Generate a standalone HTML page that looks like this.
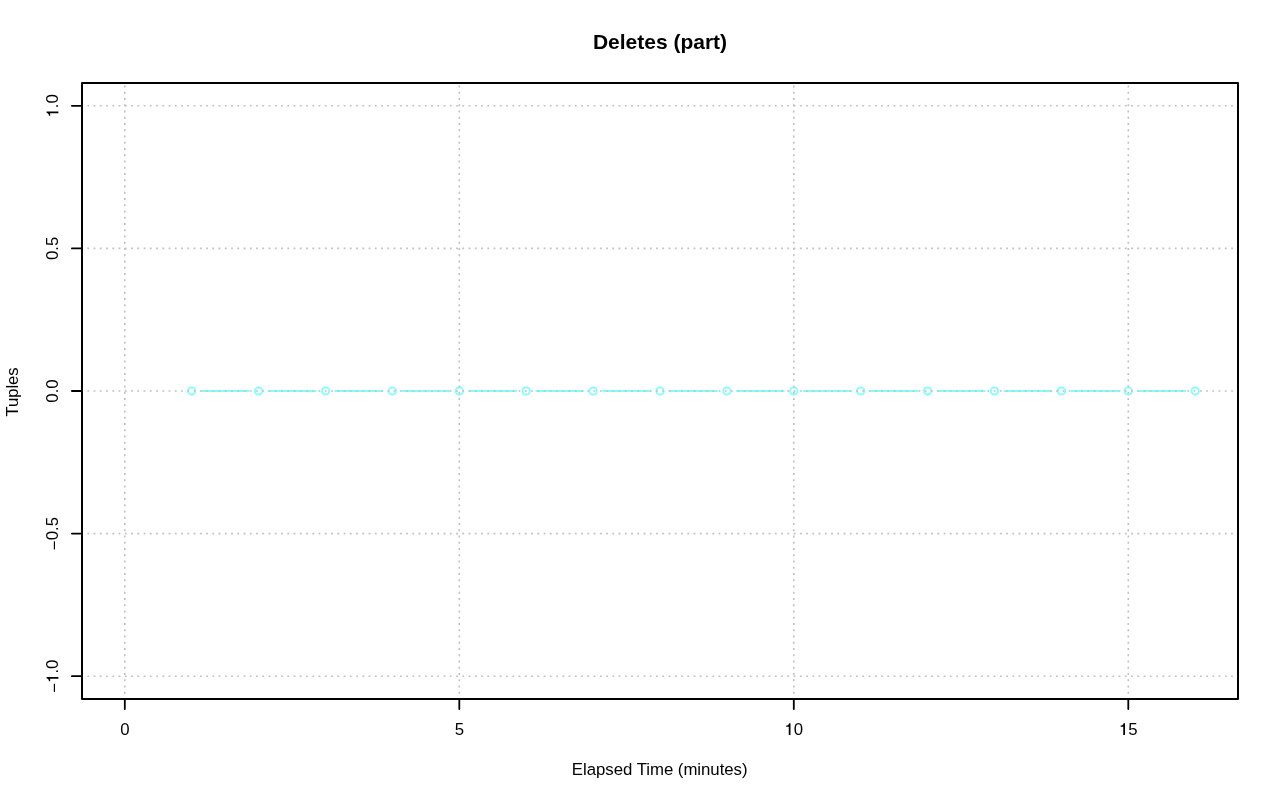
<!DOCTYPE html>
<html><head><meta charset="utf-8"><style>html,body{margin:0;padding:0;width:1280px;height:801px;overflow:hidden;background:#fff}</style></head>
<body><svg width="1280" height="801" viewBox="0 0 1280 801" style="position:absolute;left:0;top:0;display:block;will-change:transform"><rect width="1280" height="801" fill="#fff"/><path d="M201.01 391.00H249.31M267.91 391.00H316.21M334.81 391.00H383.11M401.71 391.00H450.01M468.61 391.00H516.90M535.50 391.00H583.80M602.40 391.00H650.70M669.30 391.00H717.60M736.20 391.00H784.50M803.10 391.00H851.39M869.99 391.00H918.29M936.89 391.00H985.19M1003.79 391.00H1052.09M1070.69 391.00H1118.99M1137.59 391.00H1185.89" stroke="#80ffff" stroke-width="1.85" fill="none"/><circle cx="191.71" cy="391.00" r="3.65" stroke="#80ffff" stroke-width="1.85" fill="none"/><circle cx="258.61" cy="391.00" r="3.65" stroke="#80ffff" stroke-width="1.85" fill="none"/><circle cx="325.51" cy="391.00" r="3.65" stroke="#80ffff" stroke-width="1.85" fill="none"/><circle cx="392.41" cy="391.00" r="3.65" stroke="#80ffff" stroke-width="1.85" fill="none"/><circle cx="459.31" cy="391.00" r="3.65" stroke="#80ffff" stroke-width="1.85" fill="none"/><circle cx="526.20" cy="391.00" r="3.65" stroke="#80ffff" stroke-width="1.85" fill="none"/><circle cx="593.10" cy="391.00" r="3.65" stroke="#80ffff" stroke-width="1.85" fill="none"/><circle cx="660.00" cy="391.00" r="3.65" stroke="#80ffff" stroke-width="1.85" fill="none"/><circle cx="726.90" cy="391.00" r="3.65" stroke="#80ffff" stroke-width="1.85" fill="none"/><circle cx="793.80" cy="391.00" r="3.65" stroke="#80ffff" stroke-width="1.85" fill="none"/><circle cx="860.69" cy="391.00" r="3.65" stroke="#80ffff" stroke-width="1.85" fill="none"/><circle cx="927.59" cy="391.00" r="3.65" stroke="#80ffff" stroke-width="1.85" fill="none"/><circle cx="994.49" cy="391.00" r="3.65" stroke="#80ffff" stroke-width="1.85" fill="none"/><circle cx="1061.39" cy="391.00" r="3.65" stroke="#80ffff" stroke-width="1.85" fill="none"/><circle cx="1128.29" cy="391.00" r="3.65" stroke="#80ffff" stroke-width="1.85" fill="none"/><circle cx="1195.19" cy="391.00" r="3.65" stroke="#80ffff" stroke-width="1.85" fill="none"/><path d="M82.00 105.81H1238.00M82.00 248.41H1238.00M82.00 391.00H1238.00M82.00 533.59H1238.00M82.00 676.19H1238.00M124.81 699.00V83.00M459.31 699.00V83.00M793.80 699.00V83.00M1128.29 699.00V83.00" stroke="#c0c0c0" stroke-width="1.6" fill="none" stroke-dasharray="1.80 4.45" stroke-dashoffset="0.90"/><rect x="82.0" y="83.0" width="1156.0" height="616.0" stroke="#000" stroke-width="2" stroke-linejoin="round" fill="none"/><path d="M124.81 699.00V709.10M459.31 699.00V709.10M793.80 699.00V709.10M1128.29 699.00V709.10M82.00 105.81H71.90M82.00 248.41H71.90M82.00 391.00H71.90M82.00 533.59H71.90M82.00 676.19H71.90" stroke="#000" stroke-width="1.8" stroke-linecap="round" fill="none"/><g style="font-family:'Liberation Sans',sans-serif" fill="#000"><text x="660" y="48.8" font-size="21.0" font-weight="bold" text-anchor="middle">Deletes (part)</text><text x="659.7" y="775" font-size="16.8" text-anchor="middle" textLength="175.7" lengthAdjust="spacing">Elapsed Time (minutes)</text><g transform="translate(124.81 735)"><text x="-4.672" y="0" font-size="16.8">0</text></g><g transform="translate(459.31 735)"><text x="-4.672" y="0" font-size="16.8">5</text></g><g transform="translate(793.80 735)"><text x="-9.343" y="0" font-size="16.8"> 0</text><path transform="translate(-9.343 0) scale(0.01680 -0.01680)" d="M359 0H257V490H101V560C205 572 252 606 276 703H359Z"/></g><g transform="translate(1128.29 735)"><text x="-9.343" y="0" font-size="16.8"> 5</text><path transform="translate(-9.343 0) scale(0.01680 -0.01680)" d="M359 0H257V490H101V560C205 572 252 606 276 703H359Z"/></g><g transform="translate(58.4 105.81) rotate(-90)"><text x="-11.677" y="0" font-size="16.8"> .0</text><path transform="translate(-11.677 0) scale(0.01680 -0.01680)" d="M359 0H257V490H101V560C205 572 252 606 276 703H359Z"/></g><g transform="translate(58.4 248.41) rotate(-90)"><text x="-11.677" y="0" font-size="16.8">0.5</text></g><g transform="translate(58.4 391.00) rotate(-90)"><text x="-11.677" y="0" font-size="16.8">0.0</text></g><g transform="translate(58.4 533.59) rotate(-90)"><text x="-16.583" y="0" font-size="16.8"><tspan dy="1.5">−</tspan><tspan dy="-1.5">0.5</tspan></text></g><g transform="translate(58.4 676.19) rotate(-90)"><text x="-16.583" y="0" font-size="16.8"><tspan dy="1.5">−</tspan><tspan dy="-1.5"> .0</tspan></text><path transform="translate(-6.772 0) scale(0.01680 -0.01680)" d="M359 0H257V490H101V560C205 572 252 606 276 703H359Z"/></g><text transform="translate(18 391.9) rotate(-90)" font-size="16.8" text-anchor="middle" textLength="49.15" lengthAdjust="spacing">Tuples</text></g></svg></body></html>
